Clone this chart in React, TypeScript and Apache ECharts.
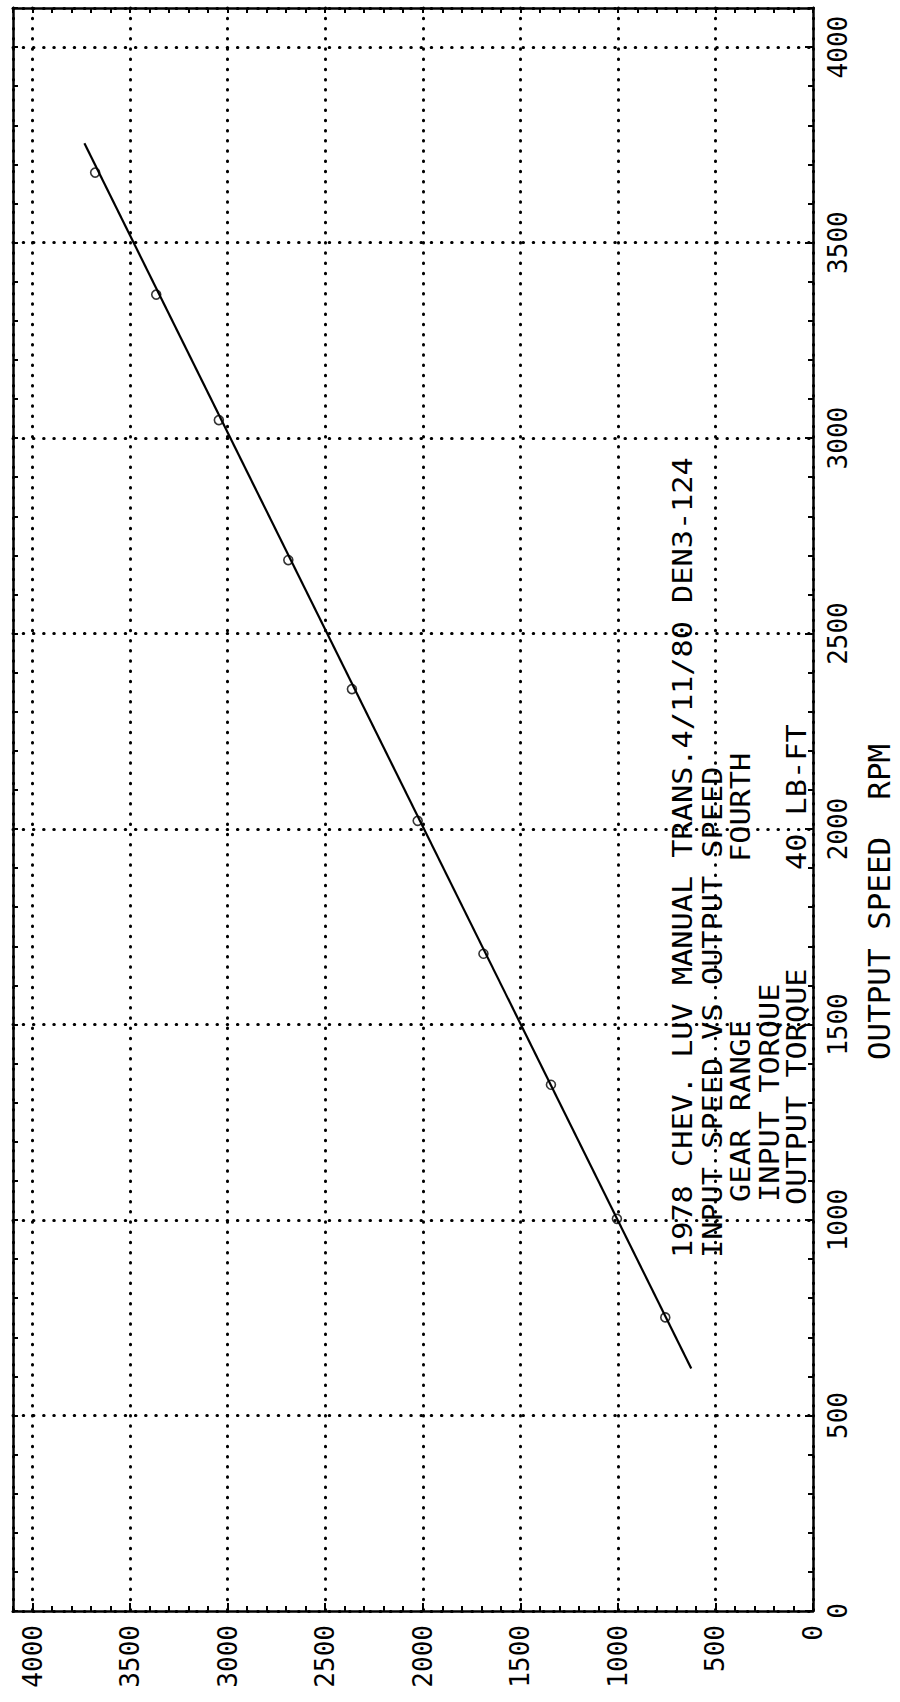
import React, { useEffect, useRef } from "react";
import * as echarts from "echarts";

// ---- data ----
const outputSpeed = [751, 1003, 1346, 1681, 2021, 2358, 2688, 3046, 3367, 3679];
const inputSpeed = [757, 1005, 1343, 1689, 2026, 2363, 2689, 3045, 3366, 3679];
const fitOutput = [620, 3754];
const fitInput = [624, 3734];

const axisMax = 4100;
const majorInterval = 500;
const minorInterval = 100;

const titleText = "1978 CHEV. LUV MANUAL TRANS.4/11/80 DEN3-124";
const subtitleText = "INPUT SPEED VS OUTPUT SPEED";
const infoLabels = ["GEAR RANGE", "INPUT TORQUE", "OUTPUT TORQUE"];
const infoValues = ["FOURTH", "40 LB-FT"];
const outputAxisName = "OUTPUT SPEED  RPM";

const MONO = "'DejaVu Sans Mono', 'Liberation Mono', monospace";

export default function App() {
  const ref = useRef<HTMLDivElement>(null);

  useEffect(() => {
    if (!ref.current) return;
    const chart = echarts.init(ref.current, undefined, { renderer: "svg" });

    const black = "#000";
    const dotStyle = { color: black, width: 3, type: [0.5, 9.7], cap: "round" };
    const lineStyle = { color: black, width: 2.5 };
    const tickStyle = { color: black, width: 2 };
    const base = { type: "value", min: 0, max: axisMax };
    const plain = (v: number) => String(v);

    const tickOnly = (extra: any) => ({
      ...base,
      interval: minorInterval,
      ...extra,
      axisTick: { show: true, inside: true, length: 5, lineStyle: tickStyle },
      axisLabel: { show: false },
      splitLine: { show: false },
    });

    const rotText = (text: string, x: number, y: number, size: number, sx: number) => ({
      type: "text",
      x,
      y,
      rotation: Math.PI / 2,
      scaleX: sx,
      silent: true,
      style: {
        text,
        fontSize: size,
        fontFamily: MONO,
        fill: black,
        align: "left",
        verticalAlign: "middle",
      },
    });

    const option: any = {
      animation: false,
      backgroundColor: "#fff",
      grid: {
        left: 13,
        right: 87,
        top: 8,
        bottom: 91,
        containLabel: false,
        outerBoundsMode: "none",
      },
      xAxis: [
        {
          ...base,
          position: "bottom",
          inverse: true,
          interval: majorInterval,
          axisLine: { show: true, onZero: false, lineStyle },
          axisTick: { show: true, inside: true, length: 8, lineStyle: tickStyle },
          axisLabel: {
            rotate: 90,
            margin: 14,
            fontSize: 26,
            fontFamily: MONO,
            color: black,
            showMaxLabel: false,
            formatter: plain,
          },
          splitLine: { show: true, lineStyle: dotStyle },
        },
        tickOnly({ position: "bottom", inverse: true, axisLine: { show: false, onZero: false } }),
        tickOnly({ position: "top", inverse: true, axisLine: { show: true, onZero: false, lineStyle } }),
      ],
      yAxis: [
        {
          ...base,
          position: "right",
          interval: majorInterval,
          axisLine: { show: true, onZero: false, lineStyle },
          axisTick: { show: true, inside: true, length: 8, lineStyle: tickStyle },
          axisLabel: {
            rotate: 90,
            margin: 12,
            fontSize: 26,
            fontFamily: MONO,
            color: black,
            showMaxLabel: false,
            formatter: plain,
          },
          splitLine: { show: true, lineStyle: dotStyle },
        },
        tickOnly({ position: "right", axisLine: { show: false, onZero: false } }),
        tickOnly({ position: "left", axisLine: { show: true, onZero: false, lineStyle } }),
      ],
      series: [
        {
          type: "line",
          xAxisIndex: 0,
          yAxisIndex: 0,
          data: fitInput.map((v, i) => [v, fitOutput[i]]),
          showSymbol: false,
          lineStyle: { color: black, width: 2.2 },
          silent: true,
        },
        {
          type: "scatter",
          xAxisIndex: 0,
          yAxisIndex: 0,
          data: inputSpeed.map((v, i) => [v, outputSpeed[i]]),
          symbol: "circle",
          symbolSize: 9,
          itemStyle: { color: "rgba(0,0,0,0)", borderColor: black, borderWidth: 1.6 },
        },
      ],
      graphic: [
        rotText(titleText, 683, 1258, 26, 1.163),
        rotText(subtitleText, 713, 1258, 26, 1.163),
        rotText(infoLabels[0], 741, 1202, 26, 1.163),
        rotText(infoValues[0], 741, 862, 26, 1.163),
        rotText(infoLabels[1], 770, 1202, 26, 1.163),
        rotText(infoLabels[2], 797, 1205, 26, 1.163),
        rotText(infoValues[1], 797, 870, 26, 1.163),
        rotText(outputAxisName, 880, 1060, 30, 1.03),
      ],
    };

    chart.setOption(option);
    return () => chart.dispose();
  }, []);

  return (
    <div
      ref={ref}
      style={{ position: "fixed", left: 0, top: 0, width: 900, height: 1702, background: "#fff" }}
    />
  );
}
